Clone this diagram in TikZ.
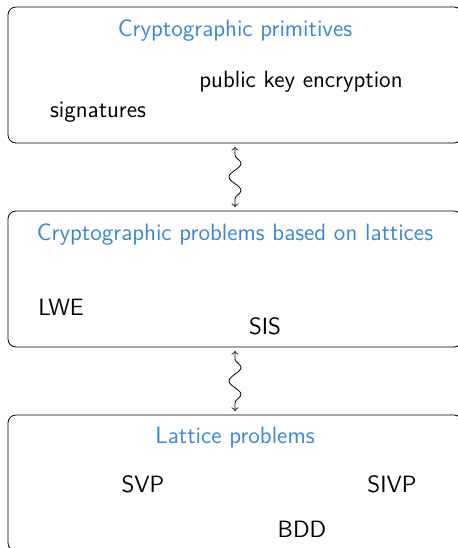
\documentclass[tikz,border=0pt]{standalone}
\usepackage{tikz}
\usetikzlibrary{positioning, decorations.pathmorphing}
\definecolor{titleblue}{RGB}{58,135,214}
\tikzset{
    layer/.style={rectangle, draw, rounded corners=4pt, minimum width=227pt, minimum height=68pt, outer sep=2pt},
    heading/.style={text=titleblue, anchor=base},
    item/.style={anchor=base},
    link/.style={<->, >=to, decorate, decoration={snake, amplitude=3pt, segment length=13.5pt, pre length=4pt, post length=4pt}}
}

\begin{document}
\begin{tikzpicture}[x=0.5pt, y=-0.5pt, every node/.style={font=\sffamily\fontsize{11.8}{14}\selectfont}]
    \useasboundingbox (0,0) rectangle (458,548);

    % the three layers
    \node (prim) [layer] at (235,75) {};
    \node (prob) [layer] at (235,279) {};
    \node (latt) [layer] at (235,483) {};

    \draw [link] (prim) -- (prob);
    \draw [link] (prob) -- (latt);

    % top layer
    \node (primT) [heading] at (235,36) {Cryptographic primitives};
    \node (pke) [item] at (301,87) {public key encryption};
    \node (sig) [item] at (98,117) {signatures};

    % middle layer
    \node (probT) [heading] at (235,240) {Cryptographic problems based on lattices};
    \node (lwe) [item] at (61,315) {LWE};
    \node (sis) [item] at (265,334) {SIS};

    % bottom layer
    \node (lattT) [heading] at (235,443) {Lattice problems};
    \node (svp) [item] at (143,492) {SVP};
    \node (sivp) [item] at (392,492) {SIVP};
    \node (bdd) [item] at (302,537) {BDD};
\end{tikzpicture}
\end{document}
